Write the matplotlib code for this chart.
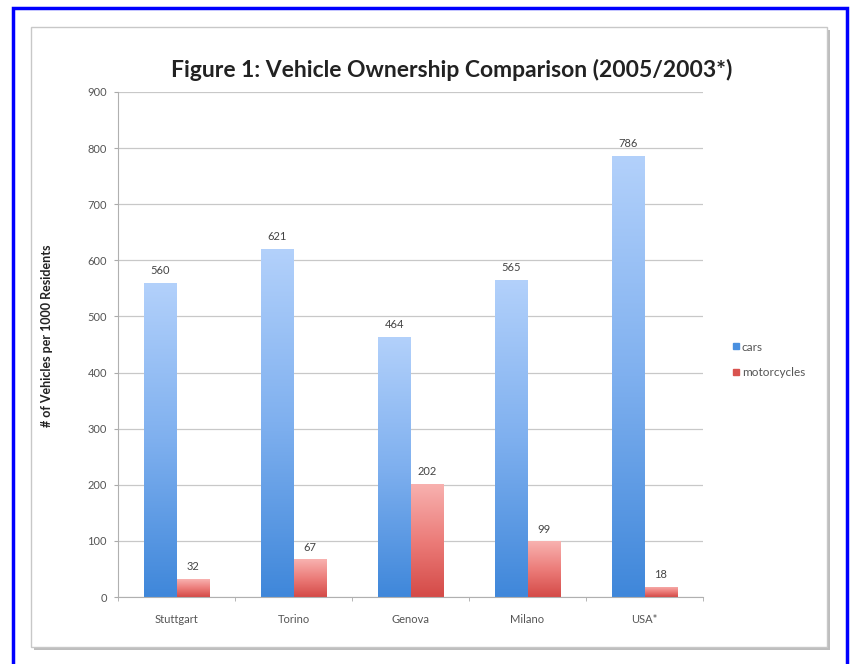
import numpy as np
import matplotlib.pyplot as plt
from matplotlib.patches import Rectangle
from matplotlib.lines import Line2D
from matplotlib.colors import LinearSegmentedColormap

cities = ['Stuttgart', 'Torino', 'Genova', 'Milano', 'USA*']
cars = [560, 621, 464, 565, 786]
motorcycles = [32, 67, 202, 99, 18]
yticks = [0, 100, 200, 300, 400, 500, 600, 700, 800, 900]

plt.rcParams['font.family'] = ['Lato', 'DejaVu Sans']

W, H = 852, 664
fig = plt.figure(figsize=(W / 100, H / 100), dpi=100)
fig.patch.set_facecolor('white')

# outer blue frame and the grey chart card (pixel coords -> figure fraction)
def px(x0, y0, x1, y1):
    return (x0 / W, 1 - y1 / H), (x1 - x0) / W, (y1 - y0) / H

xy, w, h = px(34, 30, 830, 650)
fig.patches.append(Rectangle(xy, w, h, transform=fig.transFigure, facecolor='#bdbdbd',
                             edgecolor='none', zorder=-3))
xy, w, h = px(31, 27, 827, 647)
fig.patches.append(Rectangle(xy, w, h, transform=fig.transFigure, facecolor='white',
                             edgecolor='#c8c8c8', linewidth=1, zorder=-2))
xy, w, h = px(12.5, 8.5, 846.5, 670)
fig.patches.append(Rectangle(xy, w, h, transform=fig.transFigure, facecolor='none',
                             edgecolor='#0000ff', linewidth=2.5, zorder=5))

ax = fig.add_axes([118 / W, 1 - 597 / H, (703 - 118) / W, (597 - 92) / H])
ax.set_facecolor('none')
ax.set_zorder(1)

blue_cmap = LinearSegmentedColormap.from_list('b', ['#3f87da', '#7fb0ef', '#b3d1fb'])
red_cmap = LinearSegmentedColormap.from_list('r', ['#d44a47', '#ec7d7a', '#f8b2b0'])

x = np.arange(len(cities))
bw = 0.28
grad = np.linspace(0, 1, 256).reshape(-1, 1)

def gradient_bars(xs, vals, cmap):
    bars = ax.bar(xs, vals, bw, color='none', zorder=2)
    for b in bars:
        x0, y0 = b.get_x(), b.get_y()
        im = ax.imshow(grad, cmap=cmap, origin='lower', aspect='auto', zorder=2,
                       extent=[x0, x0 + b.get_width(), y0, y0 + b.get_height()])
        im.set_clip_path(b)
    return bars

gradient_bars(x - bw / 2, cars, blue_cmap)
gradient_bars(x + bw / 2, motorcycles, red_cmap)

for xs, vals in [(x - bw / 2, cars), (x + bw / 2, motorcycles)]:
    for xi, v in zip(xs, vals):
        ax.text(xi, v + 12, str(v), ha='center', va='bottom', fontsize=8, color='#444444')

ax.set_xlim(-0.5, len(cities) - 0.5)
ax.set_ylim(0, 900)
ax.set_yticks(yticks)
ax.set_xticks(x)
ax.set_xticklabels(cities)
ax.set_xticks(np.arange(-0.5, len(cities)), minor=True)
ax.tick_params(axis='x', which='major', length=0, pad=12, labelsize=8, labelcolor='#555555')
ax.tick_params(axis='x', which='minor', length=3, color='#aaaaaa', direction='out')
ax.tick_params(axis='y', length=3, color='#aaaaaa', labelsize=8, labelcolor='#555555', pad=5)
ax.grid(axis='y', color='#c8c8c8', linewidth=0.9, zorder=0)
ax.set_axisbelow(True)
for s in ['top', 'right']:
    ax.spines[s].set_visible(False)
for s in ['left', 'bottom']:
    ax.spines[s].set_color('#b0b0b0')

ax.set_ylabel('# of Vehicles per 1000 Residents', fontsize=9, fontweight='bold',
              color='#222222')
ax.yaxis.set_label_coords((53 - 118) / (703 - 118), (597 - 336) / (597 - 92))
fig.text(451.5 / W, 1 - 70 / H, 'Figure 1: Vehicle Ownership Comparison (2005/2003*)',
         fontsize=16.5, fontweight='bold', color='#222222', ha='center', va='center')

handles = [Line2D([], [], marker='s', linestyle='none', markersize=4,
                  markerfacecolor='#4a90e0', markeredgecolor='#4a90e0'),
           Line2D([], [], marker='s', linestyle='none', markersize=4,
                  markerfacecolor='#d9534f', markeredgecolor='#d9534f')]
ax.legend(handles, ['cars', 'motorcycles'], loc='center left', bbox_to_anchor=(1.03, 0.47),
          frameon=False, fontsize=8.5, labelcolor='#555555', handletextpad=0.1,
          labelspacing=1.2, handlelength=0.8)

fig.savefig('out.png', dpi=100)
